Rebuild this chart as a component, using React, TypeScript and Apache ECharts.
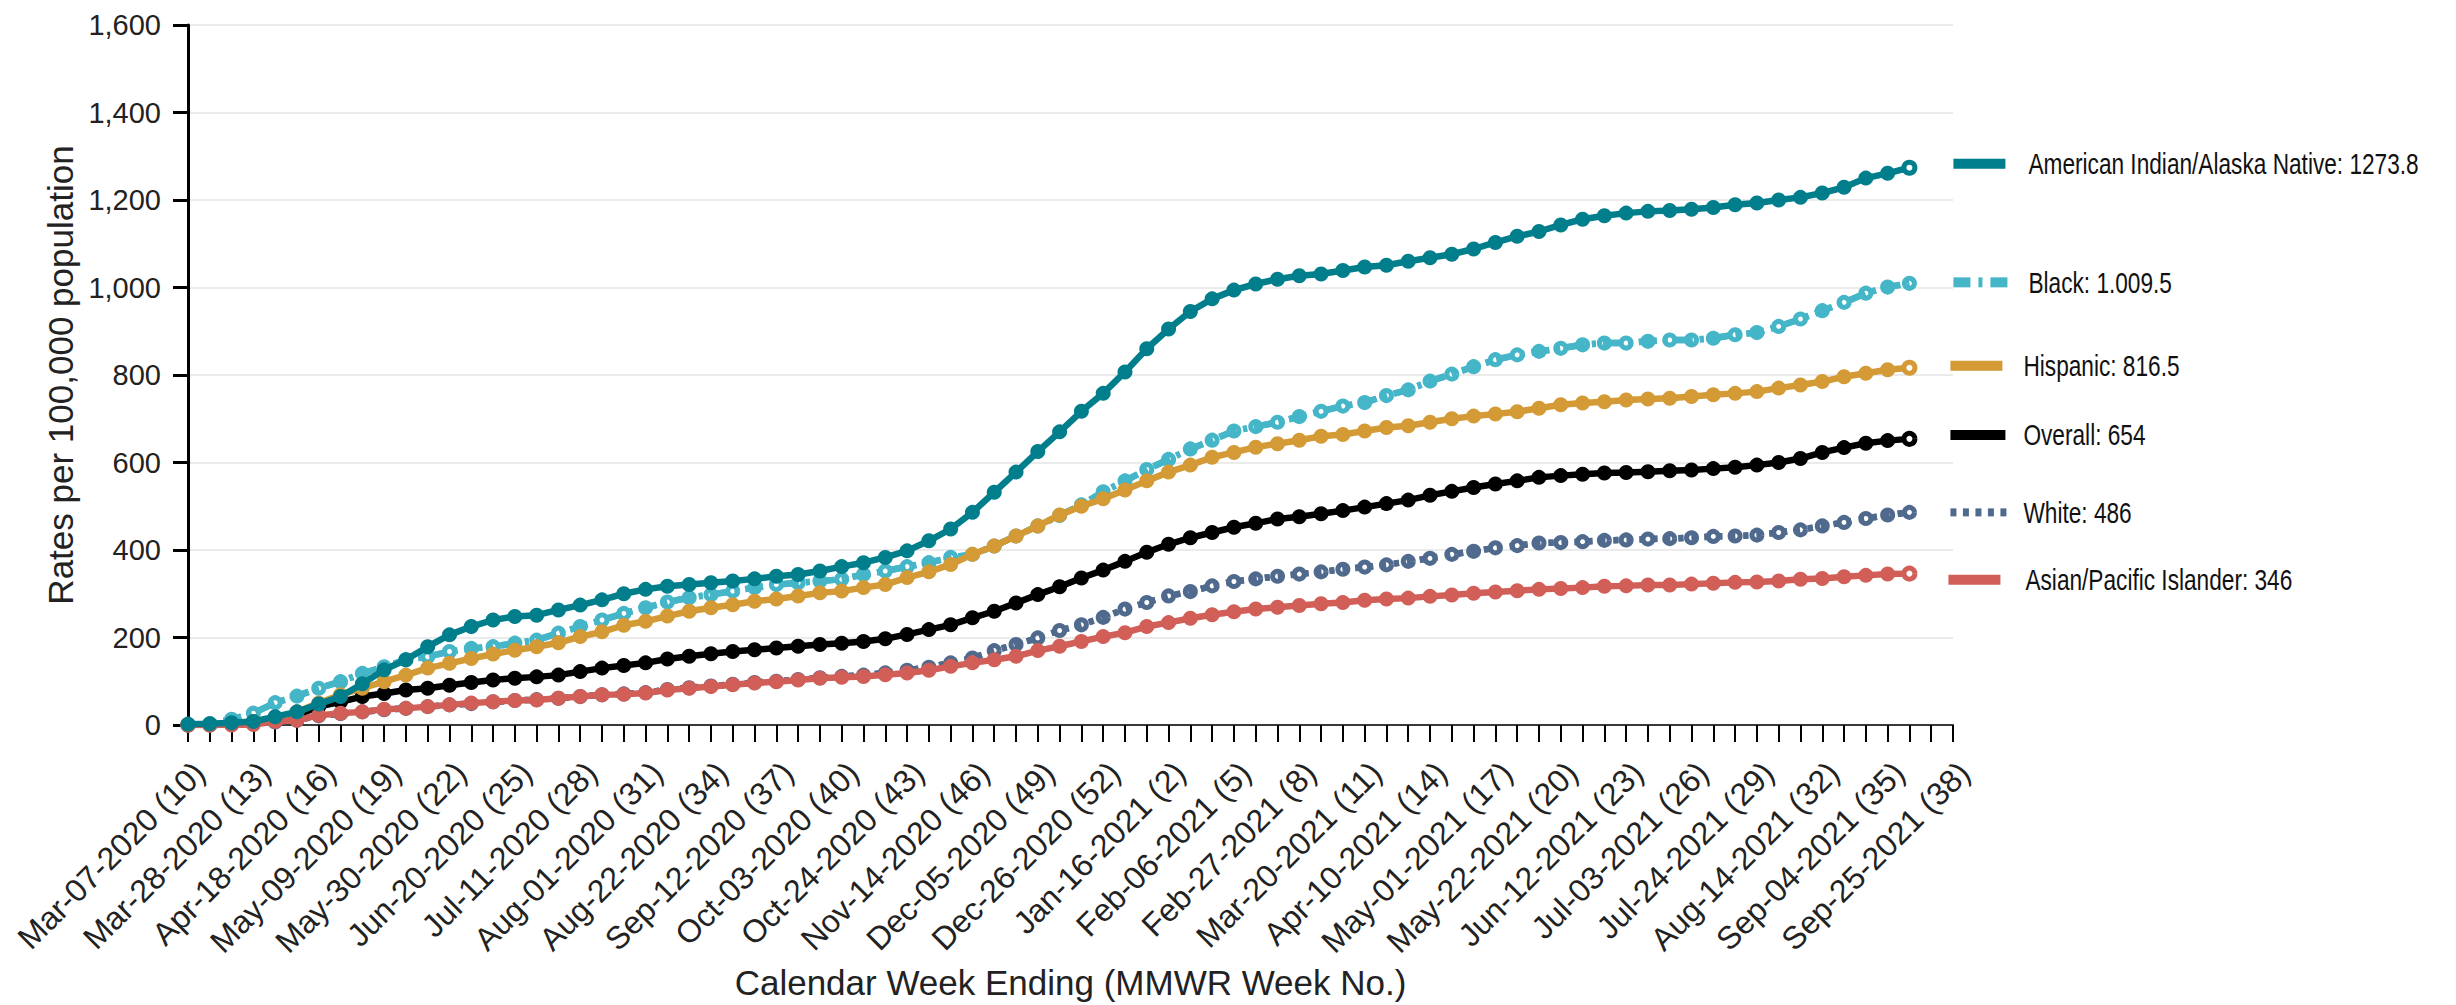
import React, { useEffect, useRef } from "react";
import * as echarts from "echarts";

const weeks = [
  "Mar-07-2020 (10)", "Mar-14-2020 (11)", "Mar-21-2020 (12)", "Mar-28-2020 (13)", "Apr-04-2020 (14)", "Apr-11-2020 (15)",
  "Apr-18-2020 (16)", "Apr-25-2020 (17)", "May-02-2020 (18)", "May-09-2020 (19)", "May-16-2020 (20)", "May-23-2020 (21)",
  "May-30-2020 (22)", "Jun-06-2020 (23)", "Jun-13-2020 (24)", "Jun-20-2020 (25)", "Jun-27-2020 (26)", "Jul-04-2020 (27)",
  "Jul-11-2020 (28)", "Jul-18-2020 (29)", "Jul-25-2020 (30)", "Aug-01-2020 (31)", "Aug-08-2020 (32)", "Aug-15-2020 (33)",
  "Aug-22-2020 (34)", "Aug-29-2020 (35)", "Sep-05-2020 (36)", "Sep-12-2020 (37)", "Sep-19-2020 (38)", "Sep-26-2020 (39)",
  "Oct-03-2020 (40)", "Oct-10-2020 (41)", "Oct-17-2020 (42)", "Oct-24-2020 (43)", "Oct-31-2020 (44)", "Nov-07-2020 (45)",
  "Nov-14-2020 (46)", "Nov-21-2020 (47)", "Nov-28-2020 (48)", "Dec-05-2020 (49)", "Dec-12-2020 (50)", "Dec-19-2020 (51)",
  "Dec-26-2020 (52)", "Jan-02-2021 (53)", "Jan-09-2021 (1)", "Jan-16-2021 (2)", "Jan-23-2021 (3)", "Jan-30-2021 (4)",
  "Feb-06-2021 (5)", "Feb-13-2021 (6)", "Feb-20-2021 (7)", "Feb-27-2021 (8)", "Mar-06-2021 (9)", "Mar-13-2021 (10)",
  "Mar-20-2021 (11)", "Mar-27-2021 (12)", "Apr-03-2021 (13)", "Apr-10-2021 (14)", "Apr-17-2021 (15)", "Apr-24-2021 (16)",
  "May-01-2021 (17)", "May-08-2021 (18)", "May-15-2021 (19)", "May-22-2021 (20)", "May-29-2021 (21)", "Jun-05-2021 (22)",
  "Jun-12-2021 (23)", "Jun-19-2021 (24)", "Jun-26-2021 (25)", "Jul-03-2021 (26)", "Jul-10-2021 (27)", "Jul-17-2021 (28)",
  "Jul-24-2021 (29)", "Jul-31-2021 (30)", "Aug-07-2021 (31)", "Aug-14-2021 (32)", "Aug-21-2021 (33)", "Aug-28-2021 (34)",
  "Sep-04-2021 (35)", "Sep-11-2021 (36)", "Sep-18-2021 (37)", "Sep-25-2021 (38)",
];

const aian = [
  2, 3, 5, 8, 19, 30, 48, 65, 94, 126,
  149, 179, 206, 225, 240, 248, 251, 263, 274, 286,
  300, 310, 317, 321, 325, 329, 334, 340, 344, 352,
  362, 371, 383, 398, 421, 448, 486, 532, 578, 625,
  670, 717, 758, 807, 860, 905, 945, 974, 994, 1008,
  1019, 1027, 1031, 1039, 1047, 1051, 1060, 1068, 1076, 1088,
  1103, 1117, 1128, 1143, 1156, 1164, 1170, 1174, 1176, 1179,
  1183, 1189, 1193, 1200, 1206, 1216, 1229, 1250, 1261, 1273.8,
];
const black = [
  0, 3, 13, 27, 51, 66, 84, 99, 118, 133,
  149, 156, 168, 175, 179, 187, 194, 210, 225, 240,
  255, 268, 281, 291, 298, 306, 314, 321, 325, 329,
  333, 344, 352, 362, 371, 383, 390, 409, 432, 455,
  479, 503, 533, 558, 584, 607, 631, 651, 672, 682,
  692, 705, 717, 729, 737, 753, 766, 786, 802, 819,
  835, 846, 854, 861, 869, 873, 873, 877, 880, 880,
  884, 892, 897, 911, 928, 947, 966, 987, 1001, 1009.5,
];
const hispanic = [
  0, 0, 2, 8, 15, 30, 50, 69, 84, 99,
  114, 130, 141, 152, 162, 171, 179, 188, 202, 213,
  228, 237, 249, 260, 268, 275, 283, 288, 295, 302,
  306, 314, 321, 337, 350, 367, 390, 409, 432, 455,
  480, 500, 517, 537, 558, 578, 594, 612, 623, 635,
  643, 651, 660, 664, 672, 680, 684, 692, 700, 706,
  711, 716, 724, 732, 736, 739, 743, 745, 747, 751,
  755, 758, 762, 770, 777, 785, 796, 804, 812, 816.5,
];
const overall = [
  0, 1, 3, 6, 14, 23, 42, 53, 65, 72,
  80, 84, 91, 97, 103, 107, 110, 114, 122, 130,
  136, 142, 151, 157, 163, 168, 172, 176, 180, 184,
  187, 191, 197, 207, 218, 229, 245, 260, 279, 298,
  316, 336, 354, 374, 395, 413, 428, 440, 452, 461,
  471, 476, 483, 490, 498, 506, 514, 525, 534, 543,
  551, 558, 566, 570, 573, 576, 577, 579, 581, 583,
  586, 589, 594, 600, 609, 623, 634, 644, 650, 654,
];
const white = [
  0, 0, 1, 3, 7, 11, 21, 26, 30, 35,
  38, 42, 46, 49, 53, 56, 58, 61, 65, 69,
  71, 74, 81, 85, 89, 93, 97, 100, 104, 108,
  111, 114, 119, 125, 132, 142, 153, 170, 184, 199,
  216, 229, 246, 265, 280, 295, 305, 318, 328, 334,
  340, 345, 350, 356, 361, 366, 374, 381, 390, 397,
  405, 410, 416, 417, 419, 422, 423, 425, 426, 428,
  431, 432, 434, 440, 446, 455, 463, 472, 480, 486,
];
const asian = [
  0, 0, 0, 1, 8, 11, 22, 27, 30, 36,
  38, 42, 46, 50, 53, 56, 57, 61, 65, 69,
  70, 73, 80, 84, 88, 92, 96, 99, 103, 107,
  109, 111, 115, 119, 125, 134, 142, 149, 157, 170,
  180, 191, 202, 211, 225, 234, 244, 252, 259, 265,
  269, 273, 277, 280, 285, 288, 290, 294, 297, 301,
  304, 307, 310, 312, 314, 317, 318, 320, 320, 322,
  324, 326, 327, 329, 333, 335, 339, 342, 345, 346,
];

const legendLabels = {
  aian: "American Indian/Alaska Native: 1273.8",
  black: "Black: 1.009.5",
  hispanic: "Hispanic: 816.5",
  overall: "Overall: 654",
  white: "White: 486",
  asian: "Asian/Pacific Islander: 346",
};

const yMin = 0;
const yMax = 1600;
const yInterval = 200;

const COLORS: Record<string, string> = {
  aian: "#007e8b",
  black: "#45b5c8",
  hispanic: "#d39a36",
  overall: "#000000",
  white: "#506a8e",
  asian: "#d15f58",
};

const SANS = "'Liberation Sans', Arial, sans-serif";

function ringItem(color: string) {
  return { color: "#ffffff", borderColor: color, borderWidth: 5 };
}

function solidData(vals: number[], color: string) {
  return vals.map((v, i) =>
    i === vals.length - 1 ? { value: v, symbolSize: 11, itemStyle: ringItem(color) } : v
  );
}

function solidSeries(key: string, vals: number[], z: number) {
  const color = COLORS[key];
  return {
    name: key,
    type: "line",
    z,
    data: solidData(vals, color),
    symbol: "circle",
    symbolSize: 15,
    showAllSymbol: true,
    itemStyle: { color },
    lineStyle: { color, width: 6.5 },
    emphasis: { disabled: true },
  };
}

function ringSeries(key: string, vals: number[], z: number, dash: number[]) {
  const color = COLORS[key];
  return [
    {
      name: key,
      type: "line",
      z,
      data: vals,
      symbol: "circle",
      symbolSize: 10,
      showAllSymbol: true,
      itemStyle: ringItem(color),
      lineStyle: { color, width: 6.5, type: dash },
      emphasis: { disabled: true },
    },
    {
      name: key + "-overlay",
      type: "line",
      z: z + 1,
      data: vals,
      showSymbol: false,
      symbol: "none",
      lineStyle: { color, width: 6.5, type: dash },
      emphasis: { disabled: true },
    },
  ];
}

// legend symbol segments: [x, width, height]
const SYMBOLS: Record<string, number[][]> = {
  aian: [[0, 52, 10]],
  black: [[0, 17, 10], [25, 4, 10], [37, 17, 10]],
  hispanic: [[-3, 52, 10]],
  overall: [[-3, 55, 10]],
  white: [[-3, 6, 8], [9.5, 6, 8], [22, 6, 8], [34.5, 6, 8], [47, 6, 8]],
  asian: [[-5, 52, 10]],
};
const LEGEND_DY: Record<string, number> = {
  aian: -4, black: -1, hispanic: -2, overall: -4, white: 0, asian: 6,
};
const TEXT_DX: Record<string, number> = {
  aian: 75, black: 75, hispanic: 70, overall: 70, white: 70, asian: 72,
};

export default function App() {
  const ref = useRef<HTMLDivElement>(null);
  useEffect(() => {
    if (!ref.current) return;
    document.body.style.margin = "0";
    const chart = echarts.init(ref.current, null, { renderer: "svg" });
    const option = {
      animation: false,
      backgroundColor: "#ffffff",
      grid: { left: 188, right: 503, top: 25, bottom: 280, containLabel: false, outerBoundsMode: "none" },
      tooltip: { show: false },
      xAxis: {
        type: "category",
        data: weeks,
        boundaryGap: false,
        name: "Calendar Week Ending (MMWR Week No.)",
        nameLocation: "middle",
        nameGap: 232,
        nameTextStyle: { fontSize: 35, fontFamily: SANS, color: "#222" },
        axisLine: { show: true, lineStyle: { color: "#3a3a3a", width: 2 } },
        axisTick: { show: true, interval: 0, length: 17, lineStyle: { color: "#000", width: 2 } },
        axisLabel: {
          interval: 2,
          rotate: 45,
          margin: 31,
          verticalAlign: "top",
          fontSize: 32,
          fontFamily: SANS,
          color: "#222",
        },
        splitLine: { show: false },
      },
      yAxis: {
        type: "value",
        min: yMin,
        max: yMax,
        interval: yInterval,
        name: "Rates per 100,000 population",
        nameLocation: "middle",
        nameGap: 82,
        nameTextStyle: { fontSize: 35, fontFamily: SANS, color: "#222" },
        axisLine: { show: true, lineStyle: { color: "#000", width: 3 } },
        axisTick: { show: true, length: 15, lineStyle: { color: "#000", width: 3 } },
        axisLabel: {
          margin: 27,
          fontSize: 29,
          fontFamily: SANS,
          color: "#222",
          formatter: (v: number) => v.toLocaleString("en-US"),
        },
        splitLine: { show: true, lineStyle: { color: "#ebebeb", width: 2 } },
      },
      series: [
        ...ringSeries("white", white, 2, [5, 8]),
        ...ringSeries("black", black, 4, [18, 7, 4, 7]),
        solidSeries("overall", overall, 6),
        solidSeries("hispanic", hispanic, 7),
        solidSeries("asian", asian, 8),
        solidSeries("aian", aian, 9),
      ],
    };
    chart.setOption(option as any);

    const seriesVals: Record<string, number[]> = { aian, black, hispanic, overall, white, asian };
    const graphic: any[] = [];
    Object.keys(seriesVals).forEach((key) => {
      const vals = seriesVals[key];
      const last = vals.length - 1;
      const pt = chart.convertToPixel({ xAxisIndex: 0, yAxisIndex: 0 }, [last, vals[last]]) as number[];
      const gx = pt[0] + 44;
      const gy = pt[1] + LEGEND_DY[key];
      const children: any[] = SYMBOLS[key].map((s) => ({
        type: "rect",
        shape: { x: s[0], y: -s[2] / 2, width: s[1], height: s[2] },
        style: { fill: COLORS[key] },
      }));
      children.push({
        type: "text",
        x: TEXT_DX[key],
        y: 0,
        scaleX: 0.755,
        style: {
          text: (legendLabels as any)[key],
          fontSize: 30,
          fontFamily: SANS,
          fill: "#111",
          textAlign: "left",
          textVerticalAlign: "middle",
          verticalAlign: "middle",
        },
      });
      graphic.push({ type: "group", x: gx, y: gy, children });
    });
    chart.setOption({ graphic } as any);

    return () => chart.dispose();
  }, []);
  return <div ref={ref} style={{ width: 2456, height: 1005, background: "#fff" }} />;
}
